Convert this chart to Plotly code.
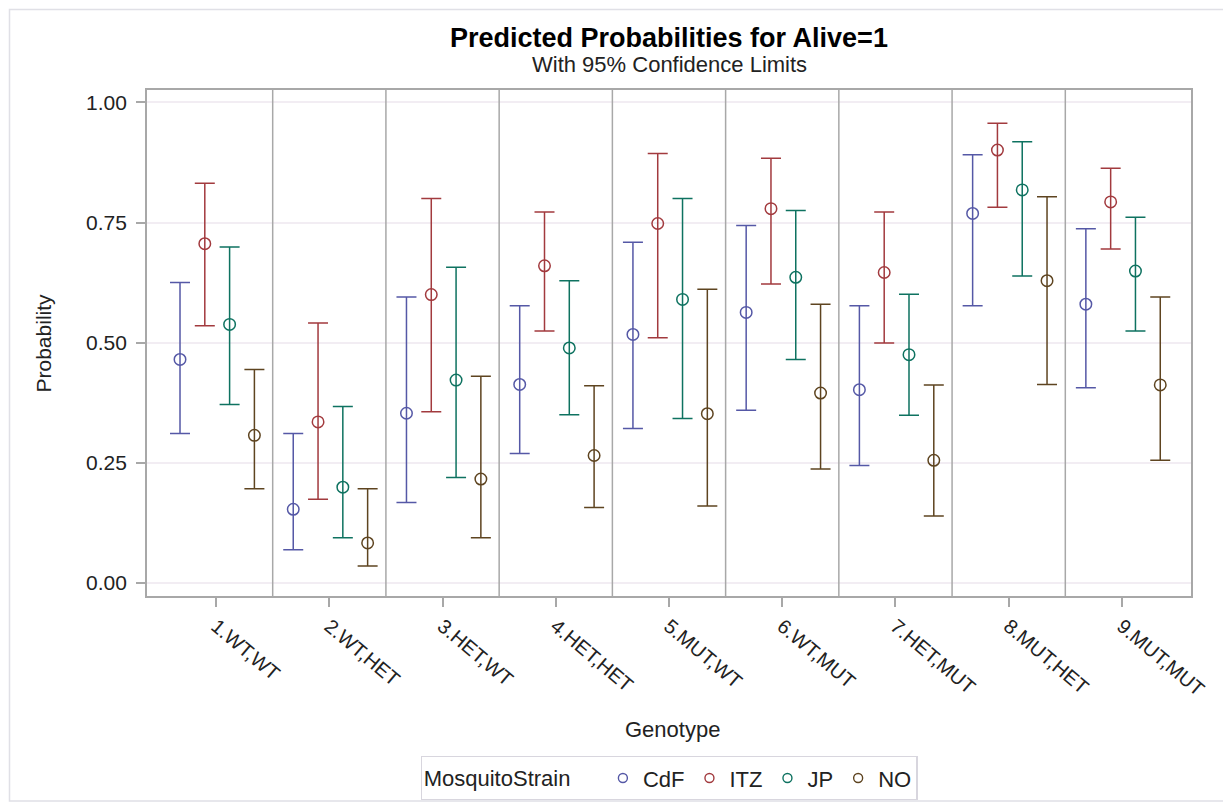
import plotly.graph_objects as go

genotypes = ["1.WT,WT", "2.WT,HET", "3.HET,WT", "4.HET,HET", "5.MUT,WT",
             "6.WT,MUT", "7.HET,MUT", "8.MUT,HET", "9.MUT,MUT"]
strains = ["CdF", "ITZ", "JP", "NO"]

cdf_est = [0.465, 0.153, 0.353, 0.413, 0.517, 0.563, 0.402, 0.769, 0.580]
cdf_lo = [0.311, 0.069, 0.167, 0.269, 0.321, 0.359, 0.244, 0.577, 0.406]
cdf_hi = [0.625, 0.311, 0.595, 0.577, 0.709, 0.744, 0.577, 0.891, 0.737]

itz_est = [0.706, 0.335, 0.600, 0.660, 0.748, 0.779, 0.646, 0.901, 0.793]
itz_lo = [0.535, 0.174, 0.356, 0.524, 0.510, 0.622, 0.499, 0.782, 0.695]
itz_hi = [0.832, 0.541, 0.800, 0.772, 0.894, 0.884, 0.772, 0.957, 0.863]

jp_est = [0.538, 0.199, 0.422, 0.489, 0.590, 0.636, 0.475, 0.818, 0.649]
jp_lo = [0.371, 0.094, 0.219, 0.350, 0.342, 0.465, 0.349, 0.639, 0.524]
jp_hi = [0.699, 0.367, 0.657, 0.629, 0.800, 0.775, 0.601, 0.918, 0.761]

no_est = [0.307, 0.083, 0.216, 0.265, 0.352, 0.395, 0.255, 0.629, 0.412]
no_lo = [0.196, 0.035, 0.094, 0.157, 0.160, 0.237, 0.139, 0.413, 0.255]
no_hi = [0.444, 0.196, 0.430, 0.410, 0.611, 0.580, 0.412, 0.804, 0.595]

y_ticks = [0.0, 0.25, 0.5, 0.75, 1.0]

series = [
    (cdf_est, cdf_lo, cdf_hi),
    (itz_est, itz_lo, itz_hi),
    (jp_est, jp_lo, jp_hi),
    (no_est, no_lo, no_hi),
]
colors = ["#5558A6", "#A23A3E", "#0E7260", "#5E4420"]

FONT = "Liberation Sans, Arial, sans-serif"
OFF = 8  # page body margin
W, H = 1231 - OFF, 830
ML, MT = 147 - OFF, 90 - OFF
PW, PH = 1044, 506
MR = W - ML - PW
MB = H - MT - PH


def px_x(px):
    return (px - OFF - ML) / PW


def px_y(py):
    return (MT + PH - (py - OFF)) / PH


fig = go.Figure()
cat_idx = list(range(1, len(genotypes) + 1))
step = 0.219
for j, (name, (est, lo, hi)) in enumerate(zip(strains, series)):
    off = (j - 1.5) * step + 0.01
    xs = [k + off for k in cat_idx]
    fig.add_trace(go.Scatter(
        x=xs, y=est, mode="markers", name=name, showlegend=False,
        marker=dict(symbol="circle-open", size=11.5, color=colors[j],
                    line=dict(width=1.5, color=colors[j])),
        error_y=dict(type="data", symmetric=False,
                     array=[h - e for h, e in zip(hi, est)],
                     arrayminus=[e - l for e, l in zip(est, lo)],
                     color=colors[j], thickness=1.5, width=10),
    ))
    fig.add_trace(go.Scatter(
        x=[None], y=[None], mode="markers", name=name, showlegend=True,
        marker=dict(symbol="circle-open", size=9, color=colors[j],
                    line=dict(width=1.4, color=colors[j])),
    ))

shapes = []
for k in cat_idx[:-1]:
    shapes.append(dict(type="line", xref="x", yref="paper", x0=k + 0.5, x1=k + 0.5,
                       y0=0, y1=1, line=dict(color="#A8A8A8", width=1.5), layer="above"))
shapes.append(dict(type="rect", xref="paper", yref="paper",
                   x0=px_x(9.5), x1=px_x(1226), y0=px_y(801), y1=px_y(9.5),
                   line=dict(color="#E0E0E6", width=1.5), layer="below"))

annotations = [
    dict(text="<b>Predicted Probabilities for Alive=1</b>", xref="paper", yref="paper",
         x=0.5, y=px_y(38), xanchor="center", yanchor="middle", showarrow=False,
         font=dict(family=FONT, size=27, color="#000000")),
    dict(text="With 95% Confidence Limits", xref="paper", yref="paper",
         x=0.5, y=px_y(64), xanchor="center", yanchor="middle", showarrow=False,
         font=dict(family=FONT, size=22, color="#222222")),
    dict(text="Probability", xref="paper", yref="paper",
         x=px_x(42.5), y=0.5, xanchor="center", yanchor="middle", showarrow=False,
         textangle=-90, font=dict(family=FONT, size=21, color="#222222")),
    dict(text="Genotype", xref="paper", yref="paper",
         x=px_x(672), y=px_y(729), xanchor="center", yanchor="middle", showarrow=False,
         font=dict(family=FONT, size=22, color="#222222")),
]

fig.update_layout(
    width=W, height=H,
    margin=dict(l=ML, r=MR, t=MT, b=MB),
    paper_bgcolor="white", plot_bgcolor="white",
    font=dict(family=FONT, size=20, color="#222222"),
    shapes=shapes, annotations=annotations,
    legend=dict(orientation="h", x=0.5, xanchor="center", y=px_y(756), yanchor="top",
                bordercolor="#D8D6DE", borderwidth=1.2,
                font=dict(family=FONT, size=22, color="#222222"),
                title=dict(text="MosquitoStrain    ", side="left",
                           font=dict(family=FONT, size=22, color="#222222")),
                itemwidth=30, traceorder="normal"),
    xaxis=dict(range=[0.39, 9.61], tickmode="array", tickvals=cat_idx, ticktext=genotypes,
               tickangle=40, ticks="outside", ticklen=9, tickcolor="#A8A8A8", tickwidth=1.5,
               showgrid=False, zeroline=False, showline=True, mirror=True, automargin=False,
               linecolor="#A8A8A8", linewidth=1.8,
               tickfont=dict(family=FONT, size=20, color="#222222")),
    yaxis=dict(range=[-0.0275, 1.026], tickmode="array", tickvals=y_ticks, tickformat=".2f",
               ticks="outside", ticklen=9, tickcolor="#A8A8A8", tickwidth=1.5, automargin=False,
               ticklabelstandoff=5,
               showgrid=True, gridcolor="#F2EDF3", gridwidth=1.5, zeroline=False,
               showline=True, mirror=True, linecolor="#A8A8A8", linewidth=1.8,
               tickfont=dict(family=FONT, size=21, color="#222222")),
)

fig.write_html("out.html")
